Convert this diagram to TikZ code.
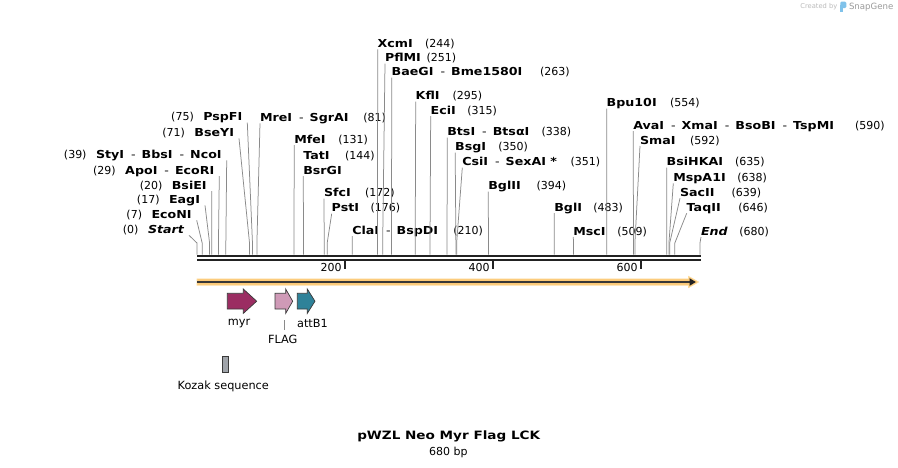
\documentclass[tikz,border=0pt]{standalone}
\usepackage{fontspec}
\setmainfont{DejaVu Sans}
\newfontfamily\nmfam{DejaVu Sans}[FakeStretch=1.15]
\newfontfamily\ttlfam{DejaVu Sans}[FakeStretch=1.18]
\usetikzlibrary{calc}
\definecolor{leadgray}{HTML}{8A8A8A}
\definecolor{seqblack}{HTML}{222222}
\definecolor{bandorange}{HTML}{FCCA78}
\definecolor{bandedge}{HTML}{FEDDA0}
\definecolor{myrc}{RGB}{155,45,98}
\definecolor{flagc}{RGB}{207,154,183}
\definecolor{attbc}{RGB}{47,130,153}
\definecolor{kozakc}{HTML}{A0A4AA}
\definecolor{featline}{HTML}{3A3A3A}
\definecolor{credgray}{HTML}{BBBBBB}
\definecolor{snapgray}{HTML}{9A9A9A}
\definecolor{logoblue}{HTML}{80C2EA}
\newcommand\enzNameFont{\nmfam\bfseries\fontsize{11}{13}\selectfont}
\newcommand\enzNumFont{\fontsize{11}{13}\selectfont}
\newcommand\enzhy{\hspace{7pt}{\mdseries -}\hspace{6pt}}
\tikzset{
  enzname/.style={inner sep=0pt,outer sep=0pt,font=\enzNameFont},
  enznum/.style={inner sep=0pt,outer sep=0pt,font=\enzNumFont},
  leader/.style={draw=leadgray,line width=0.75pt},
  featshape/.style={draw=featline,line width=0.7pt,line join=miter},
  featlabel/.style={inner sep=0pt,font=\fontsize{11.3}{13}\selectfont},
  ticklabel/.style={inner sep=0pt,font=\fontsize{11}{13}\selectfont},
}
% right-side label: id, x, yc, name, numx, num, bp
\newcommand\renz[7]{%
  \node[enzname,anchor=base west] (#1) at (#2,#3+4) {#4};
  \node[enznum,anchor=base west] (#1n) at (#5,#3+4) {#6};
  \coordinate (#1k) at ({197+0.7397*#7},243);
  \coordinate (#1s) at ({197+0.7397*#7},254.5);
  \draw[leader] ([yshift=-2pt]#1.base west) -- (#1k) -- (#1s);
}
% left-side label: id, xend, yc, name, num, bp
\newcommand\lenz[6]{%
  \node[enzname,anchor=base east] (#1) at (#2,#3+4) {#4};
  \node[enznum,anchor=base east] (#1n) at ([xshift=-9.5pt]#1.base west) {#5};
  \coordinate (#1k) at ({197+0.7397*#6},243);
  \coordinate (#1s) at ({197+0.7397*#6},254.5);
  \draw[leader] ([xshift=5pt,yshift=-2pt]#1.base east) -- (#1k) -- (#1s);
}
\begin{document}
\begin{tikzpicture}[x=1pt,y=-1pt]
\useasboundingbox (0,0) rectangle (898,467);
\fill[white] (0,0) rectangle (898,467);

% credit
\node[inner sep=0pt,anchor=east,text=credgray,font=\fontsize{6.7}{8}\selectfont] (credby) at (837.5,7) {Created by};
\fill[logoblue,rounded corners=1.4pt] (840.3,1.5) rectangle (846.3,8.2);
\fill[logoblue] (840.3,5) rectangle (842.6,12);
\node[inner sep=0pt,anchor=west,text=snapgray,font=\fontsize{8.6}{10}\selectfont] (snapg) at (848.8,7) {SnapGene};

% sequence double line
\coordinate (seqA) at (197,255.8);
\coordinate (seqB) at (700.5,255.8);
\coordinate (seqC) at (197,260.2);
\coordinate (seqD) at (700.5,260.2);
\draw[seqblack,line width=1.8pt] (seqA) -- (seqB);
\draw[seqblack,line width=1.8pt] (seqC) -- (seqD);

% ticks
\foreach \t in {200,400,600}{
  \coordinate (tk\t) at ({197+0.7397*\t},260);
  \draw[seqblack,line width=1.6pt] (tk\t) -- ++(0,8.5);
  \node[ticklabel,anchor=base east] (tl\t) at ({197+0.7397*\t-3},271.7) {\t};
}

% orange direction band
\fill[bandorange,draw=bandedge,line width=0.6pt] (197,278.8) -- (688.5,278.8) -- (688.5,276.3) -- (698.6,282) -- (688.5,287.7) -- (688.5,285.2) -- (197,285.2) -- cycle;
\draw[seqblack!90,line width=2.2pt] (197,282) -- (690.5,282);
\fill[seqblack] (689.5,278.2) -- (695.8,282) -- (689.5,285.8) -- cycle;

% features
\filldraw[fill=myrc,featshape] (227.3,293.3) -- (243.3,293.3) -- (243.3,289) -- (256.7,301.2) -- (243.3,313.4) -- (243.3,309) -- (227.3,309) -- cycle;
\filldraw[fill=flagc,featshape] (275,293.3) -- (285.7,293.3) -- (285.7,289) -- (292.7,301.2) -- (285.7,313.4) -- (285.7,309) -- (275,309) -- cycle;
\filldraw[fill=attbc,featshape] (297.3,293.3) -- (307.3,293.3) -- (307.3,289) -- (315,301.2) -- (307.3,313.4) -- (307.3,309) -- (297.3,309) -- cycle;
\filldraw[fill=kozakc,featshape] (222.2,356) rectangle (228.7,372);

\node[featlabel] (myrlbl) at (239,323.3) {myr};
\node[featlabel] (attblbl) at (312.5,323.3) {attB1};
\node[featlabel] (flaglbl) at (282.7,339.3) {FLAG};
\node[featlabel] (kozlbl) at (223.3,386) {Kozak sequence};
\coordinate (flagtop) at (284.3,320);
\draw[leader] (flagtop) -- ([yshift=5pt]flagtop |- flaglbl.north);

% left-side enzymes
\lenz{start}{184}{229.3}{\itshape Start}{(0)}{0}
\lenz{econi}{191.7}{214.3}{EcoNI}{(7)}{7}
\lenz{eagi}{200}{199.3}{EagI}{(17)}{17}
\lenz{bsiei}{206.7}{185}{BsiEI}{(20)}{20}
\lenz{apoi}{214.3}{170}{ApoI\enzhy EcoRI}{(29)}{29}
\lenz{styi}{221.7}{154.3}{StyI\enzhy BbsI\enzhy NcoI}{(39)}{39}
\lenz{bseyi}{234}{132.3}{BseYI}{(71)}{71}
\lenz{pspfi}{242.3}{116.7}{PspFI}{(75)}{75}

% right-side enzymes
\renz{mrei}{260}{117.3}{MreI\enzhy SgrAI}{363.3}{(81)}{81}
\renz{mfei}{294.3}{139}{MfeI}{338.3}{(131)}{131}
\node[enzname,anchor=base west] (tati) at (303.3,159) {TatI};
\node[enznum,anchor=base west] (tatin) at (345,159) {(144)};
\node[enzname,anchor=base west] (bsrgi) at (303.3,174) {BsrGI};
\coordinate (bsrgis) at ({197+0.7397*144},254.5);
\draw[leader] ([yshift=-2pt]bsrgi.base west) -- (bsrgis);
\renz{sfci}{324}{192.7}{SfcI}{365}{(172)}{172}
\renz{psti}{331.7}{207.7}{PstI}{370.7}{(176)}{176}
\renz{clai}{352.3}{230}{ClaI\enzhy BspDI}{453.3}{(210)}{210}
\renz{xcmi}{377.7}{43.3}{XcmI}{425}{(244)}{244}
\renz{pflmi}{385}{57.7}{PflMI}{426.7}{(251)}{251}
\renz{baegi}{391.7}{71.7}{BaeGI\enzhy Bme1580I}{540}{(263)}{263}
\renz{kfli}{415.7}{95.7}{KflI}{452.7}{(295)}{295}
\renz{ecii}{430.7}{110}{EciI}{467.3}{(315)}{315}
\renz{btsi}{447.3}{131.7}{BtsI\enzhy BtsαI}{541.7}{(338)}{338}
\renz{bsgi}{455.2}{146.7}{BsgI}{498.3}{(350)}{350}
\renz{csii}{462.3}{161.7}{CsiI\enzhy SexAI *}{570.7}{(351)}{351}
\renz{bglii}{488.3}{185.7}{BglII}{536.7}{(394)}{394}
\renz{bgli}{554.3}{207}{BglI}{593.3}{(483)}{483}
\renz{msci}{573.3}{231}{MscI}{617.3}{(509)}{509}
\renz{bpu}{606.7}{102.7}{Bpu10I}{670}{(554)}{554}
\renz{avai}{633.3}{125}{AvaI\enzhy XmaI\enzhy BsoBI\enzhy TspMI}{855}{(590)}{590}
\renz{smai}{640}{140}{SmaI}{690}{(592)}{592}
\renz{bsihkai}{666.7}{161.7}{BsiHKAI}{735}{(635)}{635}
\renz{mspa}{673.3}{177.3}{MspA1I}{737.3}{(638)}{638}
\renz{sacii}{680}{192.3}{SacII}{731.7}{(639)}{639}
\renz{taqii}{686.7}{207.3}{TaqII}{738.3}{(646)}{646}
\renz{endl}{701}{231}{\itshape End}{739.3}{(680)}{680}

% title
\node[inner sep=0pt,font=\ttlfam\bfseries\fontsize{11.5}{14}\selectfont] (title) at (448.7,436) {pWZL Neo Myr Flag LCK};
\node[inner sep=0pt,font=\fontsize{11}{13}\selectfont] (bp) at (448.3,452) {680 bp};
\end{tikzpicture}
\end{document}
